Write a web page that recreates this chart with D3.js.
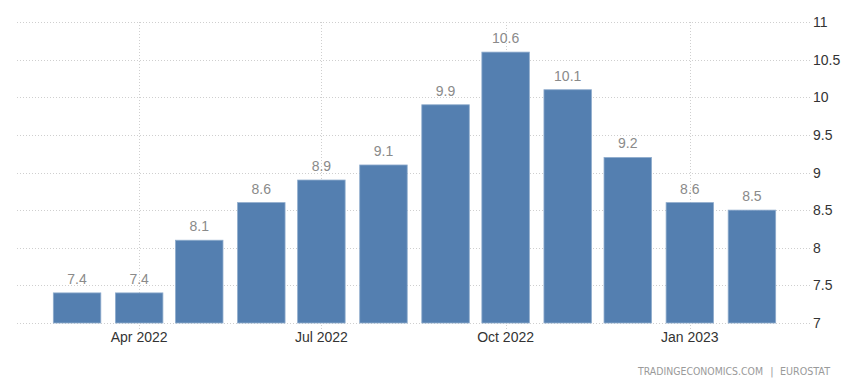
<!DOCTYPE html>
<html><head><meta charset="utf-8">
<script src="https://cdn.jsdelivr.net/npm/d3@7"></script>
<style>body{margin:0;background:#fff}svg{display:block}</style>
</head><body>
<svg id="chart" width="868" height="384"></svg>
<script>
const months = ["2022-03","2022-04","2022-05","2022-06","2022-07","2022-08","2022-09","2022-10","2022-11","2022-12","2023-01","2023-02"];
const values = [7.4,7.4,8.1,8.6,8.9,9.1,9.9,10.6,10.1,9.2,8.6,8.5];
const yTicks = [7,7.5,8,8.5,9,9.5,10,10.5,11];
const xTickDates = ["2022-04","2022-07","2022-10","2023-01"];
const xTickLabels = ["Apr 2022","Jul 2022","Oct 2022","Jan 2023"];

const parse = d3.timeParse("%Y-%m");
const svg = d3.select("#chart");
const plotLeft = 17, plotRight = 810, plotTop = 22, plotBottom = 323;

const x = d3.scaleTime().domain([new Date(2022,0,30), new Date(2023,2,2)]).range([plotLeft, plotRight]);
const y = d3.scaleLinear().domain([7, 11]).range([plotBottom, plotTop]);
const barW = 47.5;

// horizontal grid
svg.append("g").selectAll("line").data(yTicks).join("line")
  .attr("x1", plotLeft).attr("x2", plotRight)
  .attr("y1", d => Math.round(y(d)) + 0.5).attr("y2", d => Math.round(y(d)) + 0.5)
  .attr("stroke", "#cfcfcf").attr("stroke-dasharray", "1,2").attr("stroke-width", 1);

// vertical grid
svg.append("g").selectAll("line").data(xTickDates).join("line")
  .attr("x1", d => Math.round(x(parse(d))) + 0.5).attr("x2", d => Math.round(x(parse(d))) + 0.5)
  .attr("y1", plotTop).attr("y2", plotBottom + 7)
  .attr("stroke", "#cfcfcf").attr("stroke-dasharray", "1,2").attr("stroke-width", 1);

// bars
svg.append("g").selectAll("rect").data(values).join("rect")
  .attr("x", (d, i) => x(parse(months[i])) - barW / 2)
  .attr("y", d => y(d))
  .attr("width", barW)
  .attr("height", d => y(7) - y(d))
  .attr("fill", "#547fb0")
  .attr("stroke", "#8faccd").attr("stroke-width", 0.8);

// value labels
svg.append("g").selectAll("text").data(values).join("text")
  .attr("x", (d, i) => x(parse(months[i])))
  .attr("y", d => y(d) - 9)
  .attr("text-anchor", "middle")
  .attr("font-family", "Liberation Sans, Arial, sans-serif")
  .attr("font-size", 14)
  .attr("fill", "#8a8a8a")
  .text(d => d.toFixed(1));

// y axis labels
svg.append("g").selectAll("text").data(yTicks).join("text")
  .attr("x", 813)
  .attr("y", d => y(d) + 5)
  .attr("font-family", "Liberation Sans, Arial, sans-serif")
  .attr("font-size", 14)
  .attr("fill", "#333")
  .text(d => d3.format("~g")(d));

// x axis labels
svg.append("g").selectAll("text").data(xTickDates).join("text")
  .attr("x", d => x(parse(d)))
  .attr("y", 342)
  .attr("text-anchor", "middle")
  .attr("font-family", "Liberation Sans, Arial, sans-serif")
  .attr("font-size", 14)
  .attr("fill", "#333")
  .text((d, i) => xTickLabels[i]);

// source
const src = svg.append("g")
  .attr("font-family", "DejaVu Sans, sans-serif")
  .attr("font-size", 10)
  .attr("fill", "#9a9a9a");
src.append("text").attr("x", 638).attr("y", 375)
  .attr("textLength", 125).attr("lengthAdjust", "spacingAndGlyphs")
  .text("TRADINGECONOMICS.COM");
src.append("text").attr("x", 772).attr("y", 375).attr("text-anchor", "middle").text("|");
src.append("text").attr("x", 780).attr("y", 375)
  .attr("textLength", 50).attr("lengthAdjust", "spacingAndGlyphs")
  .text("EUROSTAT");
</script>
</body></html>
